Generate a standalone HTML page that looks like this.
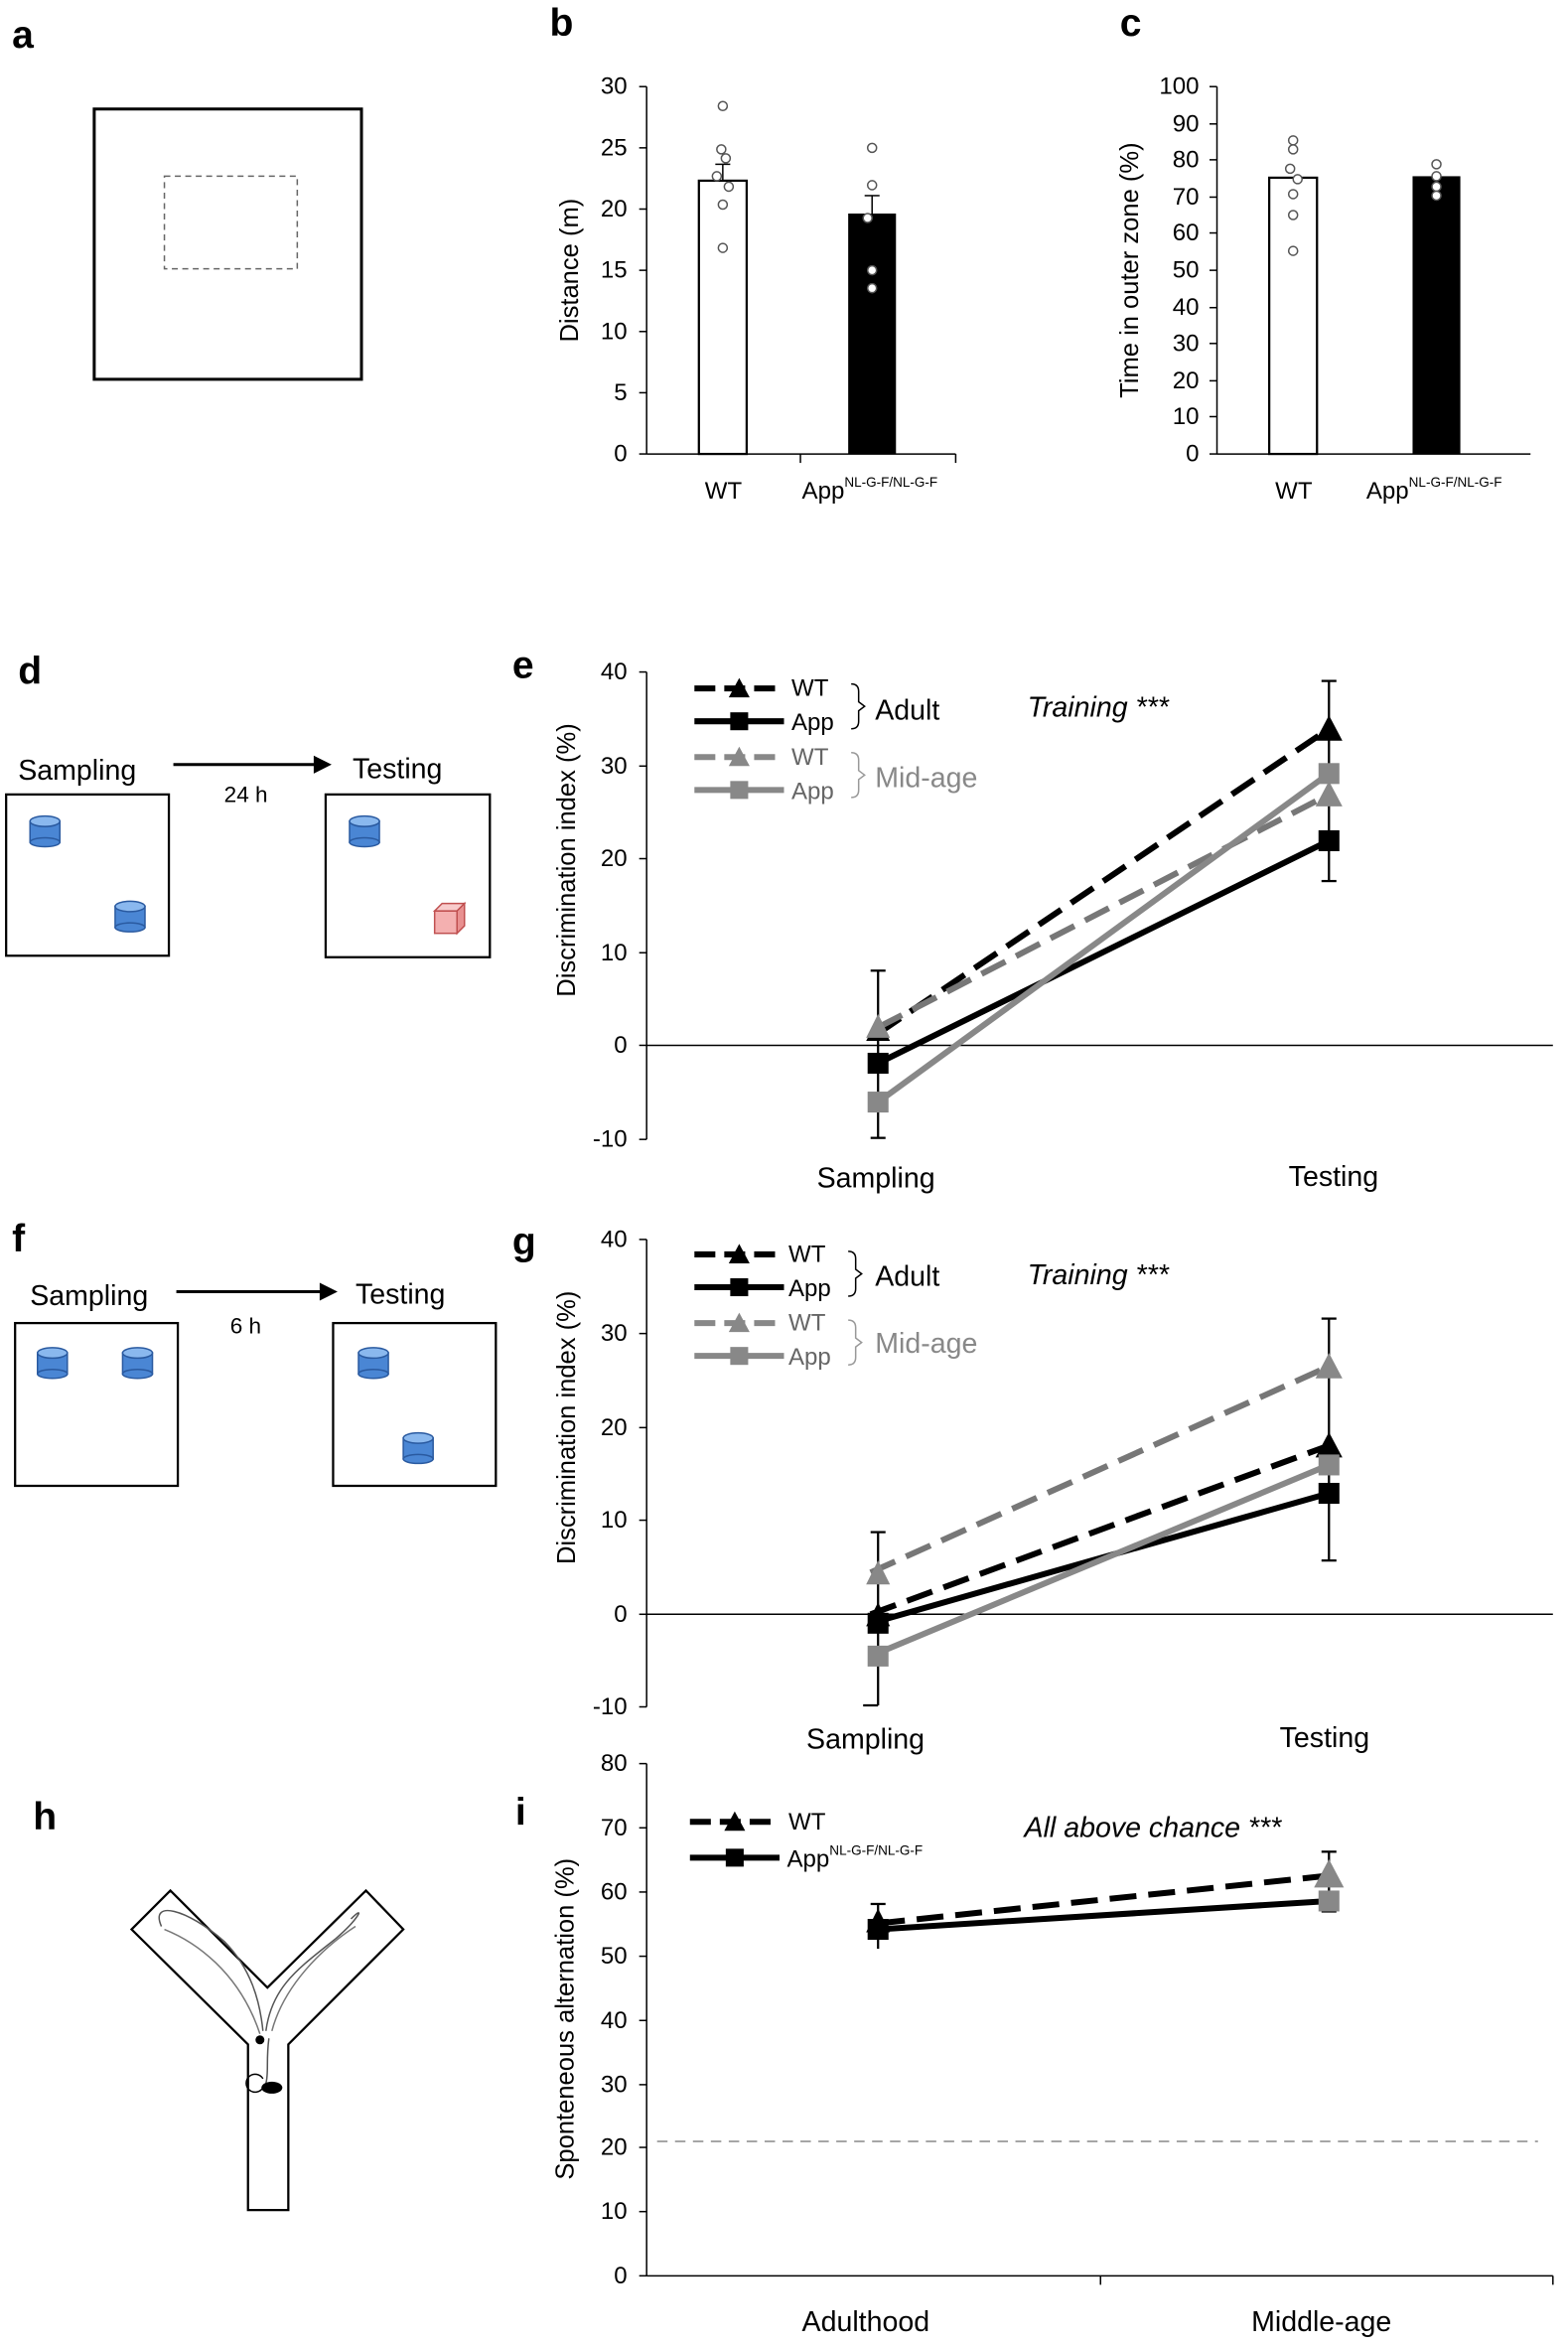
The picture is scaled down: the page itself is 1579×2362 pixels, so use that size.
<!DOCTYPE html>
<html><head><meta charset="utf-8"><style>
html,body{margin:0;padding:0;background:#fff}
svg{display:block}
text{font-family:"Liberation Sans",Calibri,sans-serif}
.yt{font-size:17px}
</style></head><body>
<svg width="1579" height="2362" viewBox="0 0 1050 1571" xmlns="http://www.w3.org/2000/svg">
<defs>
<g id="cyl"><rect x="-10" y="-7" width="20" height="14" fill="#4a86d4" stroke="#2a5aa0"/><ellipse cx="0" cy="-7" rx="10" ry="3.5" fill="#8ab8ee" stroke="#2a5aa0"/><ellipse cx="0" cy="7" rx="10" ry="3" fill="#4a86d4" stroke="#2a5aa0"/></g>
</defs>
<g font-weight="bold" font-size="26">
<text x="8" y="32">a</text><text x="368" y="24">b</text><text x="750" y="24">c</text>
<text x="12" y="458">d</text><text x="343" y="454">e</text>
<text x="8" y="838">f</text><text x="343" y="840">g</text>
<text x="22" y="1225">h</text><text x="345" y="1222">i</text>
</g>
<!-- a -->
<rect x="63" y="73" width="179" height="181" fill="none" stroke="#000" stroke-width="2"/>
<rect x="110" y="118" width="89" height="62" fill="none" stroke="#666" stroke-dasharray="4,3"/>
<!-- b -->
<g font-size="16" fill="#000">
<line x1="433" y1="58" x2="433" y2="304" stroke="#000"/>
<line x1="433" y1="304" x2="640" y2="304" stroke="#000"/>
<g stroke="#000"><line x1="428" y1="58" x2="433" y2="58"/><line x1="428" y1="99" x2="433" y2="99"/><line x1="428" y1="140" x2="433" y2="140"/><line x1="428" y1="181" x2="433" y2="181"/><line x1="428" y1="222" x2="433" y2="222"/><line x1="428" y1="263" x2="433" y2="263"/><line x1="428" y1="304" x2="433" y2="304"/><line x1="536" y1="304" x2="536" y2="310"/><line x1="640" y1="304" x2="640" y2="310"/></g>
<g text-anchor="end"><text x="420" y="63">30</text><text x="420" y="104">25</text><text x="420" y="145">20</text><text x="420" y="186">15</text><text x="420" y="227">10</text><text x="420" y="268">5</text><text x="420" y="309">0</text></g>
<text class="yt" transform="translate(387,181) rotate(-90)" text-anchor="middle">Distance (m)</text>
<rect x="468" y="121" width="32" height="183" fill="#fff" stroke="#000" stroke-width="1.5"/>
<rect x="568" y="143" width="32" height="161" fill="#000"/>
<g stroke="#000"><line x1="484" y1="110" x2="484" y2="121"/><line x1="479" y1="110" x2="489" y2="110"/><line x1="584" y1="131" x2="584" y2="143"/><line x1="579" y1="131" x2="589" y2="131"/></g>
<g fill="#fff" stroke="#555"><circle cx="484" cy="71" r="3"/><circle cx="483" cy="100" r="3"/><circle cx="486" cy="106" r="3"/><circle cx="480" cy="118" r="3"/><circle cx="488" cy="125" r="3"/><circle cx="484" cy="137" r="3"/><circle cx="484" cy="166" r="3"/><circle cx="584" cy="99" r="3"/><circle cx="584" cy="124" r="3"/><circle cx="581" cy="146" r="3"/><circle cx="584" cy="181" r="3"/><circle cx="584" cy="193" r="3"/></g>
<text x="472" y="334">WT</text><text x="537" y="334">App<tspan font-size="9" dy="-8">NL-G-F/NL-G-F</tspan></text>
</g>
<!-- c -->
<g font-size="16">
<line x1="815" y1="58" x2="815" y2="304" stroke="#000"/>
<line x1="815" y1="304" x2="1025" y2="304" stroke="#000"/>
<g text-anchor="end"><text x="803" y="63">100</text><text x="803" y="88">90</text><text x="803" y="112">80</text><text x="803" y="137">70</text><text x="803" y="161">60</text><text x="803" y="186">50</text><text x="803" y="211">40</text><text x="803" y="235">30</text><text x="803" y="260">20</text><text x="803" y="284">10</text><text x="803" y="309">0</text></g>
<g stroke="#000"><line x1="810" y1="58" x2="815" y2="58"/><line x1="810" y1="83" x2="815" y2="83"/><line x1="810" y1="107" x2="815" y2="107"/><line x1="810" y1="132" x2="815" y2="132"/><line x1="810" y1="156" x2="815" y2="156"/><line x1="810" y1="181" x2="815" y2="181"/><line x1="810" y1="206" x2="815" y2="206"/><line x1="810" y1="230" x2="815" y2="230"/><line x1="810" y1="255" x2="815" y2="255"/><line x1="810" y1="279" x2="815" y2="279"/><line x1="810" y1="304" x2="815" y2="304"/></g>
<text class="yt" transform="translate(762,181) rotate(-90)" text-anchor="middle">Time in outer zone (%)</text>
<rect x="850" y="119" width="32" height="185" fill="#fff" stroke="#000" stroke-width="1.5"/>
<rect x="946" y="118" width="32" height="186" fill="#000"/>
<g fill="#fff" stroke="#555"><circle cx="866" cy="94" r="3"/><circle cx="866" cy="100" r="3"/><circle cx="864" cy="113" r="3"/><circle cx="869" cy="120" r="3"/><circle cx="866" cy="130" r="3"/><circle cx="866" cy="144" r="3"/><circle cx="866" cy="168" r="3"/><circle cx="962" cy="110" r="3"/><circle cx="962" cy="118" r="3"/><circle cx="962" cy="125" r="3"/><circle cx="962" cy="131" r="3"/></g>
<text x="854" y="334">WT</text><text x="915" y="334">App<tspan font-size="9" dy="-8">NL-G-F/NL-G-F</tspan></text>
</g>
<!-- d -->
<g font-size="19">
<text x="12" y="522">Sampling</text><text x="236" y="521">Testing</text>
<line x1="116" y1="512" x2="212" y2="512" stroke="#000" stroke-width="2"/><polygon points="222,512 210,506 210,518"/>
<text x="150" y="537" font-size="15">24 h</text>
<rect x="4" y="532" width="109" height="108" fill="none" stroke="#000" stroke-width="1.5"/>
<rect x="218" y="532" width="110" height="109" fill="none" stroke="#000" stroke-width="1.5"/>
<use href="#cyl" x="30" y="557"/><use href="#cyl" x="87" y="614"/><use href="#cyl" x="244" y="557"/>
<rect x="291" y="610" width="15" height="15" fill="#f4b0b0" stroke="#c05050"/><polygon points="291,610 296,605 311,605 306,610" fill="#f8cccc" stroke="#c05050"/><polygon points="306,610 311,605 311,620 306,625" fill="#e89090" stroke="#c05050"/>
</g>
<!-- f -->
<g font-size="19">
<text x="20" y="874">Sampling</text><text x="238" y="873">Testing</text>
<line x1="118" y1="865" x2="216" y2="865" stroke="#000" stroke-width="2"/><polygon points="226,865 214,859 214,871"/>
<text x="154" y="893" font-size="15">6 h</text>
<rect x="10" y="886" width="109" height="109" fill="none" stroke="#000" stroke-width="1.5"/>
<rect x="223" y="886" width="109" height="109" fill="none" stroke="#000" stroke-width="1.5"/>
<use href="#cyl" x="35" y="913"/><use href="#cyl" x="92" y="913"/><use href="#cyl" x="250" y="913"/><use href="#cyl" x="280" y="970"/>
</g>
<!-- h -->
<g fill="none" stroke="#000" stroke-width="1.5">
<polygon points="88,1292 114,1266 179,1331 245,1266 270,1292 193,1369 193,1480 166,1480 166,1369"/>
<path d="M108,1290 C100,1272 125,1278 150,1300 C168,1318 174,1340 176,1360 M178,1360 C182,1330 200,1318 225,1298 C240,1285 245,1275 235,1285 M180,1365 C178,1380 180,1388 178,1395" stroke="#555" stroke-width="1"/>
<path d="M110,1292 C130,1300 160,1320 174,1362 M238,1290 C215,1305 190,1330 182,1360" stroke="#777" stroke-width="1"/>
</g>
<circle cx="174" cy="1366" r="3"/><ellipse cx="182" cy="1398" rx="7" ry="4"/><path d="M176,1398 a6,6 0 1,1 0,-6" fill="none" stroke="#000"/>
<!-- e -->
<g font-size="16">
<line x1="433" y1="450" x2="433" y2="763" stroke="#000"/>
<line x1="433" y1="700" x2="1040" y2="700" stroke="#000"/>
<g text-anchor="end"><text x="420" y="455">40</text><text x="420" y="518">30</text><text x="420" y="580">20</text><text x="420" y="643">10</text><text x="420" y="705">0</text><text x="420" y="768">-10</text></g>
<g stroke="#000"><line x1="428" y1="450" x2="433" y2="450"/><line x1="428" y1="513" x2="433" y2="513"/><line x1="428" y1="575" x2="433" y2="575"/><line x1="428" y1="638" x2="433" y2="638"/><line x1="428" y1="700" x2="433" y2="700"/><line x1="428" y1="763" x2="433" y2="763"/></g>
<text class="yt" transform="translate(385,576) rotate(-90)" text-anchor="middle">Discrimination index (%)</text>
<text x="547" y="795" font-size="19">Sampling</text><text x="863" y="794" font-size="19">Testing</text>
<g stroke-width="4" fill="none">
<line x1="588" y1="692" x2="890" y2="488" stroke="#000" stroke-dasharray="18,8"/>
<line x1="588" y1="688" x2="890" y2="532" stroke="#777" stroke-dasharray="18,8"/>
<line x1="588" y1="712" x2="890" y2="563" stroke="#000"/>
<line x1="588" y1="738" x2="890" y2="518" stroke="#888"/>
</g>
<g stroke="#000" stroke-width="1.5"><line x1="588" y1="650" x2="588" y2="762"/><line x1="583" y1="650" x2="593" y2="650"/><line x1="583" y1="762" x2="593" y2="762"/><line x1="890" y1="456" x2="890" y2="590"/><line x1="885" y1="456" x2="895" y2="456"/><line x1="885" y1="590" x2="895" y2="590"/></g>
<polygon points="588,682 580,697 596,697" fill="#000"/><polygon points="890,479 881,496 899,496" fill="#000"/>
<polygon points="588,679 580,695 596,695" fill="#888"/><polygon points="890,523 881,540 899,540" fill="#888"/>
<rect x="581" y="705" width="14" height="14" fill="#000"/><rect x="883" y="556" width="14" height="14" fill="#000"/>
<rect x="581" y="731" width="14" height="14" fill="#888"/><rect x="883" y="511" width="14" height="14" fill="#888"/>
<g stroke-width="4"><line x1="465" y1="461" x2="525" y2="461" stroke="#000" stroke-dasharray="14,6"/><line x1="465" y1="483" x2="525" y2="483" stroke="#000"/><line x1="465" y1="507" x2="525" y2="507" stroke="#888" stroke-dasharray="14,6"/><line x1="465" y1="529" x2="525" y2="529" stroke="#888"/></g>
<polygon points="495,454 488,467 502,467"/><rect x="489" y="477" width="12" height="12"/><polygon points="495,500 488,513 502,513" fill="#888"/><rect x="489" y="523" width="12" height="12" fill="#888"/>
<text x="530" y="466">WT</text><text x="530" y="489">App</text><text x="530" y="512" fill="#666">WT</text><text x="530" y="535" fill="#666">App</text>
<path d="M570,458 q5,0 5,5 v7 l4,3 l-4,3 v7 q0,5 -5,5" fill="none" stroke="#000"/>
<path d="M570,504 q5,0 5,5 v7 l4,3 l-4,3 v7 q0,5 -5,5" fill="none" stroke="#999"/>
<text x="586" y="482" font-size="19">Adult</text><text x="586" y="527" font-size="19" fill="#888">Mid-age</text>
<text x="688" y="480" font-size="19" font-style="italic">Training ***</text>
</g>
<!-- g -->
<g font-size="16">
<line x1="433" y1="830" x2="433" y2="1143" stroke="#000"/>
<line x1="433" y1="1081" x2="1040" y2="1081" stroke="#000"/>
<g text-anchor="end"><text x="420" y="835">40</text><text x="420" y="898">30</text><text x="420" y="961">20</text><text x="420" y="1023">10</text><text x="420" y="1086">0</text><text x="420" y="1148">-10</text></g>
<g stroke="#000"><line x1="428" y1="830" x2="433" y2="830"/><line x1="428" y1="893" x2="433" y2="893"/><line x1="428" y1="956" x2="433" y2="956"/><line x1="428" y1="1018" x2="433" y2="1018"/><line x1="428" y1="1081" x2="433" y2="1081"/><line x1="428" y1="1143" x2="433" y2="1143"/></g>
<text class="yt" transform="translate(385,956) rotate(-90)" text-anchor="middle">Discrimination index (%)</text>
<text x="540" y="1171" font-size="19">Sampling</text><text x="857" y="1170" font-size="19">Testing</text>
<g stroke-width="4" fill="none">
<line x1="583" y1="1081" x2="890" y2="968" stroke="#000" stroke-dasharray="18,8"/>
<line x1="583" y1="1053" x2="890" y2="915" stroke="#777" stroke-dasharray="18,8"/>
<line x1="583" y1="1087" x2="890" y2="1000" stroke="#000"/>
<line x1="583" y1="1109" x2="890" y2="981" stroke="#888"/>
</g>
<g stroke="#000" stroke-width="1.5"><line x1="588" y1="1026" x2="588" y2="1142"/><line x1="583" y1="1026" x2="593" y2="1026"/><line x1="578" y1="1142" x2="588" y2="1142"/><line x1="890" y1="883" x2="890" y2="1045"/><line x1="885" y1="883" x2="895" y2="883"/><line x1="885" y1="1045" x2="895" y2="1045"/></g>
<polygon points="588,1073 580,1089 596,1089" fill="#000"/><polygon points="890,959 881,976 899,976" fill="#000"/>
<polygon points="588,1045 580,1061 596,1061" fill="#888"/><polygon points="890,906 881,923 899,923" fill="#888"/>
<rect x="581" y="1080" width="14" height="14" fill="#000"/><rect x="883" y="993" width="14" height="14" fill="#000"/>
<rect x="581" y="1102" width="14" height="14" fill="#888"/><rect x="883" y="974" width="14" height="14" fill="#888"/>
<g stroke-width="4"><line x1="465" y1="840" x2="525" y2="840" stroke="#000" stroke-dasharray="14,6"/><line x1="465" y1="862" x2="525" y2="862" stroke="#000"/><line x1="465" y1="886" x2="525" y2="886" stroke="#888" stroke-dasharray="14,6"/><line x1="465" y1="908" x2="525" y2="908" stroke="#888"/></g>
<polygon points="495,833 488,846 502,846"/><rect x="489" y="856" width="12" height="12"/><polygon points="495,879 488,892 502,892" fill="#888"/><rect x="489" y="902" width="12" height="12" fill="#888"/>
<text x="528" y="845">WT</text><text x="528" y="868">App</text><text x="528" y="891" fill="#666">WT</text><text x="528" y="914" fill="#666">App</text>
<path d="M568,838 q5,0 5,5 v7 l4,3 l-4,3 v7 q0,5 -5,5" fill="none" stroke="#000"/>
<path d="M568,884 q5,0 5,5 v7 l4,3 l-4,3 v7 q0,5 -5,5" fill="none" stroke="#999"/>
<text x="586" y="861" font-size="19">Adult</text><text x="586" y="906" font-size="19" fill="#888">Mid-age</text>
<text x="688" y="860" font-size="19" font-style="italic">Training ***</text>
</g>
<!-- i -->
<g font-size="16">
<line x1="433" y1="1181" x2="433" y2="1524" stroke="#000"/>
<line x1="433" y1="1524" x2="1040" y2="1524" stroke="#000"/>
<g stroke="#000"><line x1="737" y1="1524" x2="737" y2="1530"/><line x1="1040" y1="1524" x2="1040" y2="1530"/></g>
<g text-anchor="end"><text x="420" y="1186">80</text><text x="420" y="1229">70</text><text x="420" y="1272">60</text><text x="420" y="1315">50</text><text x="420" y="1358">40</text><text x="420" y="1401">30</text><text x="420" y="1443">20</text><text x="420" y="1486">10</text><text x="420" y="1529">0</text></g>
<g stroke="#000"><line x1="428" y1="1181" x2="433" y2="1181"/><line x1="428" y1="1224" x2="433" y2="1224"/><line x1="428" y1="1267" x2="433" y2="1267"/><line x1="428" y1="1310" x2="433" y2="1310"/><line x1="428" y1="1353" x2="433" y2="1353"/><line x1="428" y1="1396" x2="433" y2="1396"/><line x1="428" y1="1438" x2="433" y2="1438"/><line x1="428" y1="1481" x2="433" y2="1481"/><line x1="428" y1="1524" x2="433" y2="1524"/></g>
<text class="yt" transform="translate(384,1352) rotate(-90)" text-anchor="middle">Sponteneous alternation (%)</text>
<line x1="440" y1="1434" x2="1030" y2="1434" stroke="#888" stroke-dasharray="7,5"/>
<text x="537" y="1561" font-size="19">Adulthood</text><text x="838" y="1561" font-size="19">Middle-age</text>
<line x1="588" y1="1288" x2="890" y2="1256" stroke="#000" stroke-width="4" stroke-dasharray="18,8"/>
<line x1="588" y1="1292" x2="890" y2="1273" stroke="#000" stroke-width="4"/>
<g stroke="#000" stroke-width="1.5"><line x1="588" y1="1275" x2="588" y2="1305"/><line x1="583" y1="1275" x2="593" y2="1275"/><line x1="890" y1="1240" x2="890" y2="1280"/><line x1="885" y1="1240" x2="895" y2="1240"/><line x1="885" y1="1280" x2="895" y2="1280"/></g>
<polygon points="588,1278 580,1294 596,1294"/><polygon points="890,1245 880,1264 900,1264" fill="#888"/>
<rect x="581" y="1285" width="14" height="14"/><rect x="883" y="1266" width="14" height="14" fill="#888"/>
<g stroke-width="4" stroke="#000"><line x1="462" y1="1220" x2="522" y2="1220" stroke-dasharray="14,6"/><line x1="462" y1="1244" x2="522" y2="1244"/></g>
<polygon points="492,1213 485,1226 499,1226"/><rect x="486" y="1238" width="12" height="12"/>
<text x="528" y="1225">WT</text><text x="527" y="1250">App<tspan font-size="9" dy="-8">NL-G-F/NL-G-F</tspan></text>
<text x="686" y="1230" font-size="19" font-style="italic">All above chance ***</text>
</g>
</svg>
</body></html>
